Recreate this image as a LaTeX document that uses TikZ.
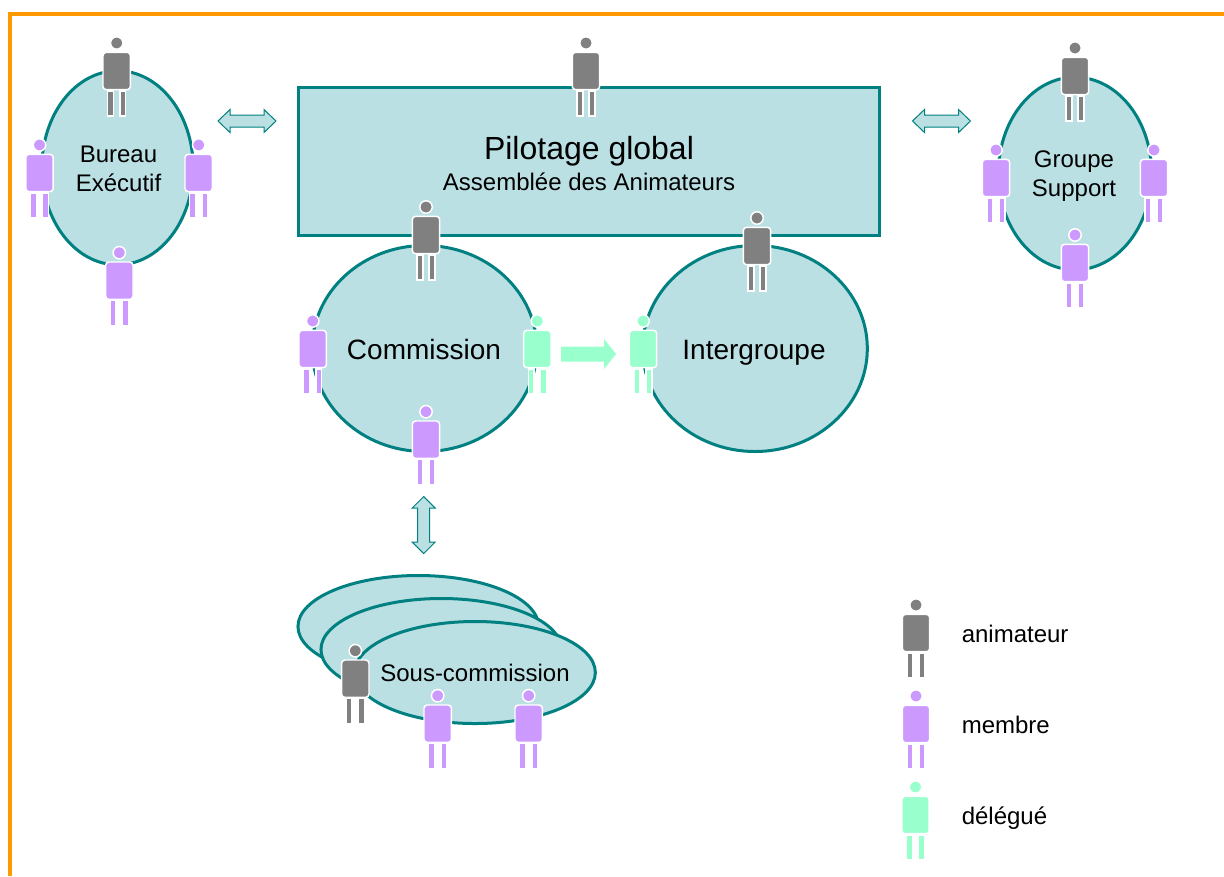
\documentclass[tikz,border=0pt]{standalone}
\usepackage{fontspec}
\setmainfont{Liberation Sans}
\usetikzlibrary{shapes.geometric}
\definecolor{teal1}{HTML}{008080}
\definecolor{fillb}{HTML}{BBE0E3}
\definecolor{orange1}{HTML}{FF9900}
\definecolor{anim}{HTML}{808080}
\definecolor{memb}{HTML}{CC99FF}
\definecolor{dele}{HTML}{99FFCC}
\tikzset{
  blob/.style={ellipse,draw=teal1,fill=fillb,line width=2.25pt,inner sep=0pt,outer sep=0pt},
  blockbox/.style={rectangle,draw=teal1,fill=fillb,line width=2.25pt,inner sep=0pt,outer sep=0pt},
  lab/.style={anchor=base,inner sep=0pt,text=black},
  labs/.style={lab,font=\fontsize{18}{18}\selectfont},
  labm/.style={lab,font=\fontsize{21}{21}\selectfont},
  labl/.style={lab,font=\fontsize{24}{24}\selectfont},
  legendlab/.style={anchor=base west,inner sep=0pt,font=\fontsize{18}{18}\selectfont},
  tealarrow/.style={draw=teal1,fill=fillb,line width=0.75pt,line join=miter},
  person/.pic={
    \begin{scope}[draw=white,fill=#1,line width=1.1pt]
      \filldraw (0,0) circle[radius=6.2];
      \filldraw[rounded corners=2.5pt] (-13.7,9.3) rectangle (13.7,46.7);
      \filldraw (-9,48) rectangle (-3.2,73);
      \filldraw (3.2,48) rectangle (9,73);
    \end{scope}
  },
  hdouble/.pic={
    \draw[tealarrow] (-29,0) -- (-17,-11.5) -- (-17,-6) -- (17,-6) -- (17,-11.5) -- (29,0) -- (17,11.5) -- (17,6) -- (-17,6) -- (-17,11.5) -- cycle;
  },
  vdouble/.pic={
    \draw[tealarrow] (0,-28.5) -- (-11.5,-17) -- (-6,-17) -- (-6,17) -- (-11.5,17) -- (0,28.5) -- (11.5,17) -- (6,17) -- (6,-17) -- (11.5,-17) -- cycle;
  },
  greenarrow/.pic={
    \fill[dele] (-27.5,-7.5) -- (15.5,-7.5) -- (15.5,-15) -- (27.5,0) -- (15.5,15) -- (15.5,7.5) -- (-27.5,7.5) -- cycle;
  },
}
\begin{document}
\begin{tikzpicture}[x=0.75pt,y=-0.75pt]
\useasboundingbox (0,0) rectangle (1224,876);
\fill[white] (0,0) rectangle (1224,876);
% frame
\fill[orange1] (8,12) rectangle (1224,16);
\fill[orange1] (8,12) rectangle (12,876);
% shapes
\node[blob,minimum width=113.5pt,minimum height=145.5pt] (bureau) at (117.5,167.8) {};
\node[blob,minimum width=115pt,minimum height=144.5pt] (groupe) at (1075,173.5) {};
\node[blockbox,minimum width=436pt,minimum height=111.25pt] (pilotage) at (589,161.5) {};
\node[blob,minimum width=168.5pt,minimum height=154.5pt] (commission) at (424.5,348.5) {};
\node[blob,minimum width=168.5pt,minimum height=154.5pt] (intergroupe) at (755,348.5) {};
\node[blob,minimum width=180.5pt,minimum height=76.5pt] (sous1) at (418.3,626.5) {};
\node[blob,minimum width=180.5pt,minimum height=76.5pt] (sous2) at (441.3,649.5) {};
\node[blob,minimum width=180.5pt,minimum height=76.5pt] (sous3) at (475,672.5) {};
% texts
\node[labs] (t1) at (118.5,162) {Bureau};
\node[labs] (t2) at (118.5,191) {Exécutif};
\node[labs] (t3) at (1074,167) {Groupe};
\node[labs] (t4) at (1074,196) {Support};
\node[labl] (t5) at (589,159) {Pilotage global};
\node[labs] (t6) at (589,190) {Assemblée des Animateurs};
\node[labm] (t7) at (424,359) {Commission};
\node[labm] (t8) at (754,359) {Intergroupe};
\node[labs] (t9) at (475,681.5) {Sous-commission};
\node[legendlab] (t10) at (961.5,642) {animateur};
\node[legendlab] (t11) at (961.5,733) {membre};
\node[legendlab] (t12) at (961.5,824) {délégué};
% arrows
\pic (a1) at (247,121) {hdouble};
\pic (a2) at (941.5,121) {hdouble};
\pic (a3) at (423.7,525) {vdouble};
\pic (a4) at (588.5,354) {greenarrow};
% people
\pic (p1) at (116.7,43) {person=anim};
\pic (p2) at (39.5,145) {person=memb};
\pic (p3) at (198.7,145) {person=memb};
\pic (p4) at (119.3,252.7) {person=memb};
\pic (p5) at (586,43) {person=anim};
\pic (p6) at (1075,48) {person=anim};
\pic (p7) at (996,150) {person=memb};
\pic (p8) at (1154,150) {person=memb};
\pic (p9) at (1075,235) {person=memb};
\pic (p10) at (426,207) {person=anim};
\pic (p11) at (312.7,321) {person=memb};
\pic (p12) at (537.3,321) {person=dele};
\pic (p13) at (426,411.7) {person=memb};
\pic (p14) at (757,218) {person=anim};
\pic (p15) at (643,321) {person=dele};
\pic (p16) at (355.3,650.7) {person=anim};
\pic (p17) at (437.7,695.7) {person=memb};
\pic (p18) at (528.7,695.7) {person=memb};
\pic (p19) at (916,605) {person=anim};
\pic (p20) at (916,696) {person=memb};
\pic (p21) at (915.5,787) {person=dele};
\end{tikzpicture}
\end{document}
